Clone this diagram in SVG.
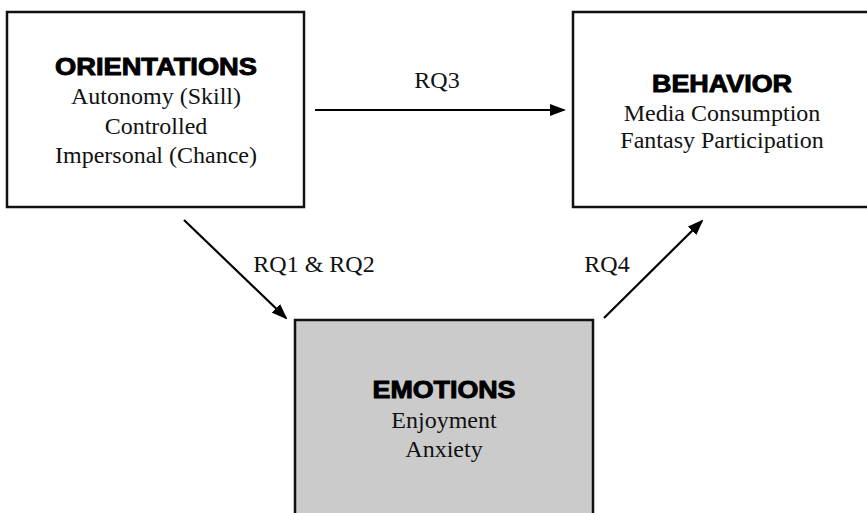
<svg xmlns="http://www.w3.org/2000/svg" width="867" height="513" viewBox="0 0 867 513">
<style>
.box{fill:#fff;stroke:#111;stroke-width:2.5}
.gray{fill:#cbcbcb}
.h{font-family:"Liberation Sans",Arial,sans-serif;font-weight:bold;font-size:23px;text-anchor:middle;fill:#000;stroke:#000;stroke-width:0.9}
.t{font-family:"Liberation Serif","Times New Roman",serif;font-size:24px;text-anchor:middle;fill:#111}
.e{stroke:#000;stroke-width:2.2;fill:none;marker-end:url(#ah)}
</style>
<defs>
<marker id="ah" markerWidth="16" markerHeight="12" refX="14" refY="6" orient="auto" markerUnits="userSpaceOnUse">
<path d="M0,0 L16,6 L0,12 Z" fill="#000"/>
</marker>
</defs>
<rect width="867" height="513" fill="#fff"/>
<g id="orientations">
<rect class="box" x="7" y="12" width="297" height="195"/>
<text class="h" x="156" y="75" textLength="202" lengthAdjust="spacingAndGlyphs">ORIENTATIONS</text>
<text class="t" x="156" y="104">Autonomy (Skill)</text>
<text class="t" x="156" y="134">Controlled</text>
<text class="t" x="156" y="163">Impersonal (Chance)</text>
</g>
<g id="behavior">
<rect class="box" x="573" y="12" width="300" height="195"/>
<text class="h" x="722" y="92" textLength="140" lengthAdjust="spacingAndGlyphs">BEHAVIOR</text>
<text class="t" x="722" y="121">Media Consumption</text>
<text class="t" x="722" y="148">Fantasy Participation</text>
</g>
<g id="emotions">
<rect class="box gray" x="295" y="320" width="298" height="210"/>
<text class="h" x="444" y="398" textLength="143" lengthAdjust="spacingAndGlyphs">EMOTIONS</text>
<text class="t" x="444" y="428">Enjoyment</text>
<text class="t" x="444" y="457">Anxiety</text>
</g>
<g id="connectors">
<line class="e" x1="315" y1="110" x2="564" y2="110"/>
<line class="e" x1="184" y1="220" x2="286" y2="318"/>
<line class="e" x1="604" y1="318" x2="702" y2="221"/>
<text class="t" x="437" y="88">RQ3</text>
<text class="t" x="314" y="272">RQ1 &amp; RQ2</text>
<text class="t" x="607" y="272">RQ4</text>
</g>
</svg>
